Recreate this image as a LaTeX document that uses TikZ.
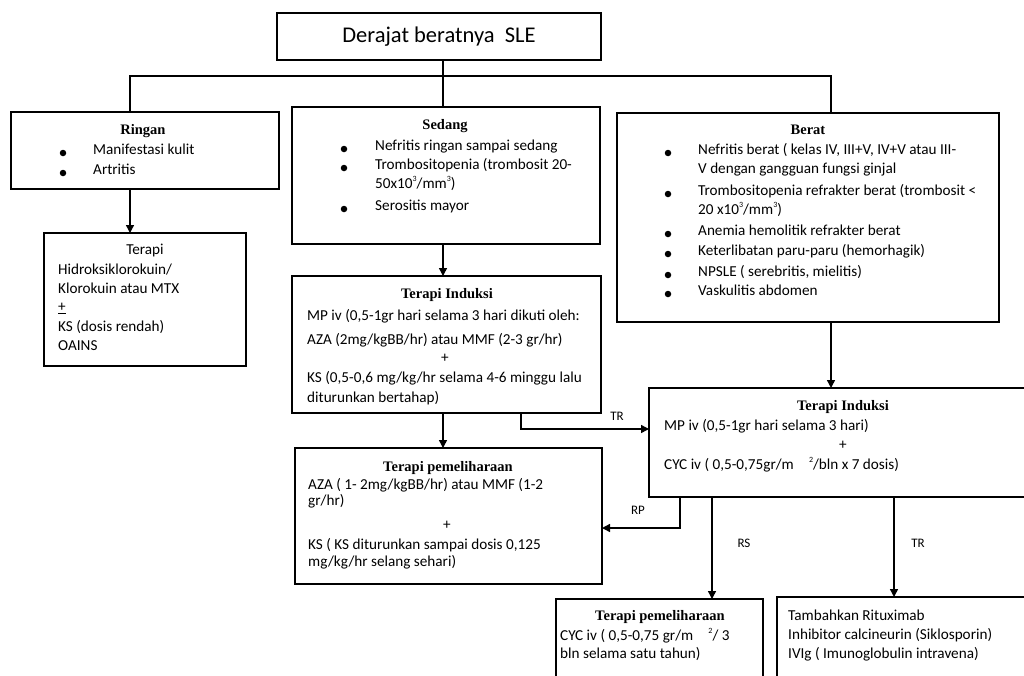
\documentclass[tikz,border=0pt]{standalone}
\usepackage{fontspec}
\setmainfont{Carlito}
\newfontfamily\headfont{Liberation Serif}
\usetikzlibrary{arrows.meta}

\newcommand{\sq}[1]{\raisebox{0.45em}{\fontsize{8}{9}\selectfont #1}}

\begin{document}
\begin{tikzpicture}[x=1pt,y=-1pt,
  box/.style={draw, line width=2.4pt, rectangle, inner sep=0pt, outer sep=0pt, anchor=north west},
  thinbox/.style={box, line width=1.6pt},
  link/.style={line width=1.8pt},
  arr/.style={line width=1.4pt, -{Triangle[length=8pt,width=8pt]}},
  txt/.style={anchor=mid west, inner sep=0pt, font=\fontsize{15.2}{18}\selectfont},
  ctxt/.style={anchor=mid, inner sep=0pt, font=\fontsize{15.2}{18}\selectfont},
  head/.style={anchor=mid, inner sep=0pt, font=\headfont\bfseries\fontsize{14.5}{17}\selectfont},
  dot/.style={circle, fill, inner sep=0pt, minimum size=6.5pt},
  lbl/.style={anchor=mid, inner sep=0pt, font=\fontsize{13}{15}\selectfont}
]
\useasboundingbox (0,0) rectangle (1024,675);
\fill[white] (0,0) rectangle (1024,675);

% ---------- boxes ----------
\node[box, minimum width=324, minimum height=47] (title) at (277,13) {};
\node[box, minimum width=268, minimum height=77] (ringan) at (11,112) {};
\node[box, minimum width=202, minimum height=133] (terapiR) at (44,233) {};
\node[box, minimum width=308, minimum height=137] (sedang) at (292,107) {};
\node[box, minimum width=382, minimum height=209] (berat) at (617,113) {};
\node[box, minimum width=309, minimum height=137] (induksiS) at (292,276) {};
\node[box, minimum width=307, minimum height=136] (pemS) at (295,448) {};
\node[box, minimum width=385, minimum height=109] (induksiB) at (649,388) {};
\node[box, minimum width=207, minimum height=95] (pemB) at (556,599) {};
\node[thinbox, minimum width=257, minimum height=97] (tamb) at (777,597) {};

% ---------- title ----------
\node[anchor=mid, inner sep=0pt, font=\fontsize{22.5}{26}\selectfont] (titleTxt) at (439,40) {Derajat beratnya\ \ SLE};

% ---------- Ringan ----------
\node[head] (rH) at (143,132) {Ringan};
\node[dot] (rD1) at (63,153) {};
\node[txt] (rT1) at (93,152) {Manifestasi kulit};
\node[dot] (rD2) at (63,173) {};
\node[txt] (rT2) at (93,172) {Artritis};

\node[ctxt] (tH) at (145,252) {Terapi};
\node[txt] (t1) at (58,272) {Hidroksiklorokuin/};
\node[txt] (t2) at (58,291) {Klorokuin atau MTX};
\node[txt] (t3) at (58,309) {\underline{+}};
\node[txt] (t4) at (58,329) {KS (dosis rendah)};
\node[txt] (t5) at (58,348) {OAINS};

% ---------- Sedang ----------
\node[head] (sH) at (445,127) {Sedang};
\node[dot] (sD1) at (344,149) {};
\node[txt] (s1) at (375,148) {Nefritis ringan sampai sedang};
\node[dot] (sD2) at (344,168) {};
\node[txt] (s2) at (375,167) {Trombositopenia (trombosit 20-};
\node[txt] (s3) at (375,186) {50x10\sq{3}/mm\sq{3})};
\node[dot] (sD3) at (344,209) {};
\node[txt] (s4) at (375,208) {Serositis mayor};

\node[head] (iH) at (447,296) {Terapi Induksi};
\node[txt] (i1) at (307,318) {MP iv (0,5-1gr hari selama 3 hari dikuti oleh:};
\node[txt] (i2) at (307,342) {AZA (2mg/kgBB/hr) atau MMF (2-3 gr/hr)};
\node[ctxt] (i3) at (445,360) {+};
\node[txt] (i4) at (307,380) {KS (0,5-0,6 mg/kg/hr selama 4-6 minggu lalu};
\node[txt] (i5) at (307,400) {diturunkan bertahap)};

\node[head] (pH) at (448,469) {Terapi pemeliharaan};
\node[txt] (p1) at (308,487) {AZA ( 1- 2mg/kgBB/hr) atau MMF (1-2};
\node[txt] (p2) at (308,503) {gr/hr)};
\node[ctxt] (p3) at (447,527) {+};
\node[txt] (p4) at (308,547) {KS ( KS diturunkan sampai dosis 0,125};
\node[txt] (p5) at (308,564) {mg/kg/hr selang sehari)};

% ---------- Berat ----------
\node[head] (bH) at (808,132) {Berat};
\node[dot] (bD1) at (668,153) {};
\node[txt] (b1) at (698,152) {Nefritis berat ( kelas IV, III+V, IV+V atau III-};
\node[txt] (b2) at (698,171) {V dengan gangguan fungsi ginjal};
\node[dot] (bD2) at (668,194) {};
\node[txt] (b3) at (698,193) {Trombositopenia refrakter berat (trombosit <};
\node[txt] (b4) at (698,212) {20 x10\sq{3}/mm\sq{3})};
\node[dot] (bD3) at (668,234) {};
\node[txt] (b5) at (698,233) {Anemia hemolitik refrakter berat};
\node[dot] (bD4) at (668,254) {};
\node[txt] (b6) at (698,253) {Keterlibatan paru-paru (hemorhagik)};
\node[dot] (bD5) at (668,275) {};
\node[txt] (b7) at (698,274) {NPSLE ( serebritis, mielitis)};
\node[dot] (bD6) at (668,294) {};
\node[txt] (b8) at (698,293) {Vaskulitis abdomen};

\node[head] (jH) at (843,408) {Terapi Induksi};
\node[txt] (j1) at (664,428) {MP iv (0,5-1gr hari selama 3 hari)};
\node[ctxt] (j2) at (843,447) {+};
\node[txt] (j3) at (664,467) {CYC iv ( 0,5-0,75gr/m\quad\sq{2}/bln x 7 dosis)};

\node[head] (qH) at (660,618) {Terapi pemeliharaan};
\node[txt] (q1) at (560,638) {CYC iv ( 0,5-0,75 gr/m\quad\sq{2}/ 3};
\node[txt] (q2) at (560,656) {bln selama satu tahun)};

\node[txt] (u1) at (788,618) {Tambahkan Rituximab};
\node[txt] (u2) at (788,637) {Inhibitor calcineurin (Siklosporin)};
\node[txt] (u3) at (788,656) {IVIg ( Imunoglobulin intravena)};

% ---------- connectors ----------
\coordinate (hub) at (443,76);
\coordinate (hl) at (130,76);
\coordinate (hr) at (831,76);
\draw[link] (hub |- title.south) -- (hub |- sedang.north);
\draw[link] (hl |- ringan.north) -- (hl) -- (hr) -- (hr |- berat.north);

\draw[arr] (hl |- ringan.south) -- (hl |- terapiR.north);
\draw[arr] (hub |- sedang.south) -- (hub |- induksiS.north);
\draw[arr] (hub |- induksiS.south) -- (hub |- pemS.north);
\draw[arr] (hr |- berat.south) -- (hr |- induksiB.north);

\coordinate (tr) at (521,429);
\draw[arr] (tr |- induksiS.south) -- (tr) -- (tr -| induksiB.west);
\node[lbl] (trL) at (617,418) {TR};

\coordinate (rp) at (680,528);
\draw[arr] (rp |- induksiB.south) -- (rp) -- (rp -| pemS.east);
\node[lbl] (rpL) at (638,512) {RP};

\coordinate (rs) at (712,545);
\draw[arr] (rs |- induksiB.south) -- (rs |- pemB.north);
\node[lbl] (rsL) at (744,545) {RS};

\coordinate (tr2) at (894,545);
\draw[arr] (tr2 |- induksiB.south) -- (tr2 |- tamb.north);
\node[lbl] (tr2L) at (918,545) {TR};
\end{tikzpicture}
\end{document}
